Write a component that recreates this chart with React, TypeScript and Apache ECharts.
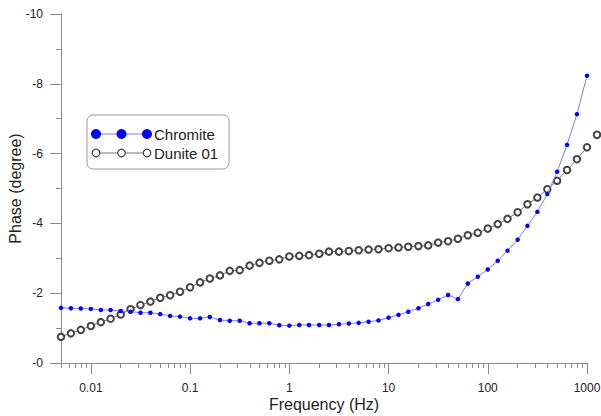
import React, { useEffect, useRef } from "react";
import * as echarts from "echarts";

const frequency = [
  0.005, 0.00629, 0.00792, 0.01, 0.0126, 0.0158, 0.02, 0.0251, 0.0316, 0.0398,
  0.05, 0.0629, 0.0792, 0.1, 0.126, 0.158, 0.2, 0.251, 0.316, 0.398,
  0.5, 0.629, 0.792, 1, 1.26, 1.58, 2, 2.51, 3.16, 3.98,
  5, 6.29, 7.92, 10, 12.6, 15.8, 20, 25.1, 31.6, 39.8,
  50, 62.9, 79.2, 100, 126, 158, 200, 251, 316, 398,
  500, 629, 792, 1000, 1260,
];

const chromite = [
  -1.58, -1.57, -1.56, -1.55, -1.52, -1.52, -1.49, -1.47, -1.44, -1.44,
  -1.4, -1.35, -1.33, -1.28, -1.28, -1.32, -1.23, -1.21, -1.21, -1.14,
  -1.14, -1.14, -1.08, -1.07, -1.09, -1.09, -1.09, -1.09, -1.11, -1.13,
  -1.15, -1.18, -1.22, -1.3, -1.38, -1.47, -1.57, -1.69, -1.81, -1.95,
  -1.83, -2.28, -2.47, -2.68, -2.93, -3.22, -3.53, -3.93, -4.33, -4.84,
  -5.48, -6.25, -7.13, -8.23,
];

const dunite = [
  -0.75, -0.85, -0.95, -1.06, -1.17, -1.27, -1.39, -1.54, -1.66, -1.76,
  -1.87, -1.94, -2.04, -2.17, -2.31, -2.42, -2.51, -2.64, -2.66, -2.79,
  -2.87, -2.93, -2.97, -3.05, -3.07, -3.09, -3.13, -3.19, -3.19, -3.21,
  -3.23, -3.25, -3.26, -3.29, -3.31, -3.33, -3.35, -3.37, -3.45, -3.49,
  -3.56, -3.66, -3.73, -3.85, -3.98, -4.13, -4.32, -4.55, -4.74, -4.98,
  -5.22, -5.53, -5.84, -6.18, -6.54,
];

const majorTicks = [0.01, 0.1, 1, 10, 100, 1000];
const minorTicks = [
  0.005, 0.006, 0.007, 0.008, 0.009,
  0.02, 0.03, 0.04, 0.05, 0.06, 0.07, 0.08, 0.09,
  0.2, 0.3, 0.4, 0.5, 0.6, 0.7, 0.8, 0.9,
  2, 3, 4, 5, 6, 7, 8, 9,
  20, 30, 40, 50, 60, 70, 80, 90,
  200, 300, 400, 500, 600, 700, 800, 900,
];

const seriesNames = ["Chromite", "Dunite 01"];

const FONT = "Arial, 'Liberation Sans', sans-serif";
const AXIS_COLOR = "#8a8a8a";
const TEXT_COLOR = "#222";

export default function App() {
  const ref = useRef<HTMLDivElement>(null);

  useEffect(() => {
    if (!ref.current) return;
    const chart = echarts.init(ref.current, undefined, { renderer: "svg" });

    const chromiteData = chromite.map((v, i) => [frequency[i], v]);
    const duniteData = dunite.map((v, i) => [frequency[i], v]);

    const gridLeft = 61;
    const gridTop = 14;
    const gridW = 526;
    const gridH = 349;

    const lx = 96;
    const row1 = 134;
    const row2 = 153;
    const legendGraphic: any[] = [
      {
        type: "rect",
        shape: { x: 87, y: 115, width: 142, height: 54, r: 6 },
        style: { fill: "#fff", stroke: "#9a9a9a", lineWidth: 1 },
        z: 10,
      },
      {
        type: "line",
        shape: { x1: lx, y1: row1, x2: lx + 51, y2: row1 },
        style: { stroke: "#7c7cff", lineWidth: 1 },
        z: 11,
      },
      ...[0, 25.5, 51].map((d) => ({
        type: "circle",
        shape: { cx: lx + d, cy: row1, r: 5 },
        style: { fill: "#0000ff" },
        z: 12,
      })),
      {
        type: "text",
        x: 154,
        y: row1,
        style: {
          text: seriesNames[0],
          font: `15px ${FONT}`,
          fill: TEXT_COLOR,
          verticalAlign: "middle",
        },
        z: 12,
      },
      {
        type: "line",
        shape: { x1: lx, y1: row2, x2: lx + 51, y2: row2 },
        style: { stroke: "#777", lineWidth: 1 },
        z: 11,
      },
      ...[0, 25.5, 51].map((d) => ({
        type: "circle",
        shape: { cx: lx + d, cy: row2, r: 3.8 },
        style: { fill: "#fff", stroke: "#444", lineWidth: 1.2 },
        z: 12,
      })),
      {
        type: "text",
        x: 154,
        y: row2,
        style: {
          text: seriesNames[1],
          font: `15px ${FONT}`,
          fill: TEXT_COLOR,
          verticalAlign: "middle",
        },
        z: 12,
      },
    ];

    chart.setOption({
      animation: false,
      backgroundColor: "#fff",
      grid: {
        left: gridLeft,
        top: gridTop,
        width: gridW,
        height: gridH,
        containLabel: false,
        outerBoundsMode: "none",
      },
      xAxis: [
        {
          type: "log",
          min: 0.005,
          max: 1000,
          position: "bottom",
          name: "Frequency (Hz)",
          nameLocation: "middle",
          nameGap: 33,
          nameMoveOverlap: false,
          nameTextStyle: { fontFamily: FONT, fontSize: 16, color: TEXT_COLOR },
          axisLine: { show: true, onZero: false, lineStyle: { color: AXIS_COLOR, width: 1 } },
          axisTick: {
            show: true,
            length: 11,
            customValues: majorTicks,
            lineStyle: { color: AXIS_COLOR, width: 1 },
          },
          minorTick: { show: false },
          axisLabel: {
            customValues: majorTicks,
            margin: 19,
            fontFamily: FONT,
            fontSize: 12,
            color: TEXT_COLOR,
            formatter: (v: number) => String(v),
          },
          splitLine: { show: false },
        },
        {
          type: "log",
          min: 0.005,
          max: 1000,
          position: "top",
          offset: -gridH,
          axisLine: { show: false },
          axisTick: {
            show: true,
            inside: true,
            length: 5,
            customValues: minorTicks,
            lineStyle: { color: AXIS_COLOR, width: 1 },
          },
          axisLabel: { show: false },
          splitLine: { show: false },
        },
      ],
      yAxis: {
        type: "value",
        min: -10,
        max: 0,
        interval: 2,
        inverse: true,
        name: "Phase (degree)",
        nameLocation: "middle",
        nameGap: 38,
        nameMoveOverlap: false,
        nameTextStyle: { fontFamily: FONT, fontSize: 16, color: TEXT_COLOR },
        axisLine: { show: true, onZero: false, lineStyle: { color: AXIS_COLOR, width: 1 } },
        axisTick: { show: true, length: 11, lineStyle: { color: AXIS_COLOR, width: 1 } },
        minorTick: { show: true, splitNumber: 2, length: 5, lineStyle: { color: AXIS_COLOR, width: 1 } },
        axisLabel: {
          margin: 18,
          fontFamily: FONT,
          fontSize: 12,
          color: TEXT_COLOR,
          formatter: (v: number) => (v === 0 ? "-0" : String(v)),
        },
        splitLine: { show: false },
      },
      series: [
        {
          name: seriesNames[1],
          type: "line",
          xAxisIndex: 0,
          data: duniteData,
          clip: false,
          symbol: "emptyCircle",
          symbolSize: 6.5,
          showAllSymbol: true,
          itemStyle: { color: "#444", borderColor: "#444", borderWidth: 1.2 },
          lineStyle: { color: "#777", width: 1 },
          z: 2,
        },
        {
          name: seriesNames[0],
          type: "line",
          xAxisIndex: 0,
          data: chromiteData,
          clip: false,
          symbol: "circle",
          symbolSize: 4.5,
          showAllSymbol: true,
          itemStyle: { color: "#0000ff" },
          lineStyle: { color: "#7c7cff", width: 1 },
          z: 3,
        },
      ],
      graphic: legendGraphic,
    });

    return () => chart.dispose();
  }, []);

  return (
    <div
      ref={ref}
      style={{ position: "fixed", left: 0, top: 0, width: 601, height: 416 }}
    />
  );
}
